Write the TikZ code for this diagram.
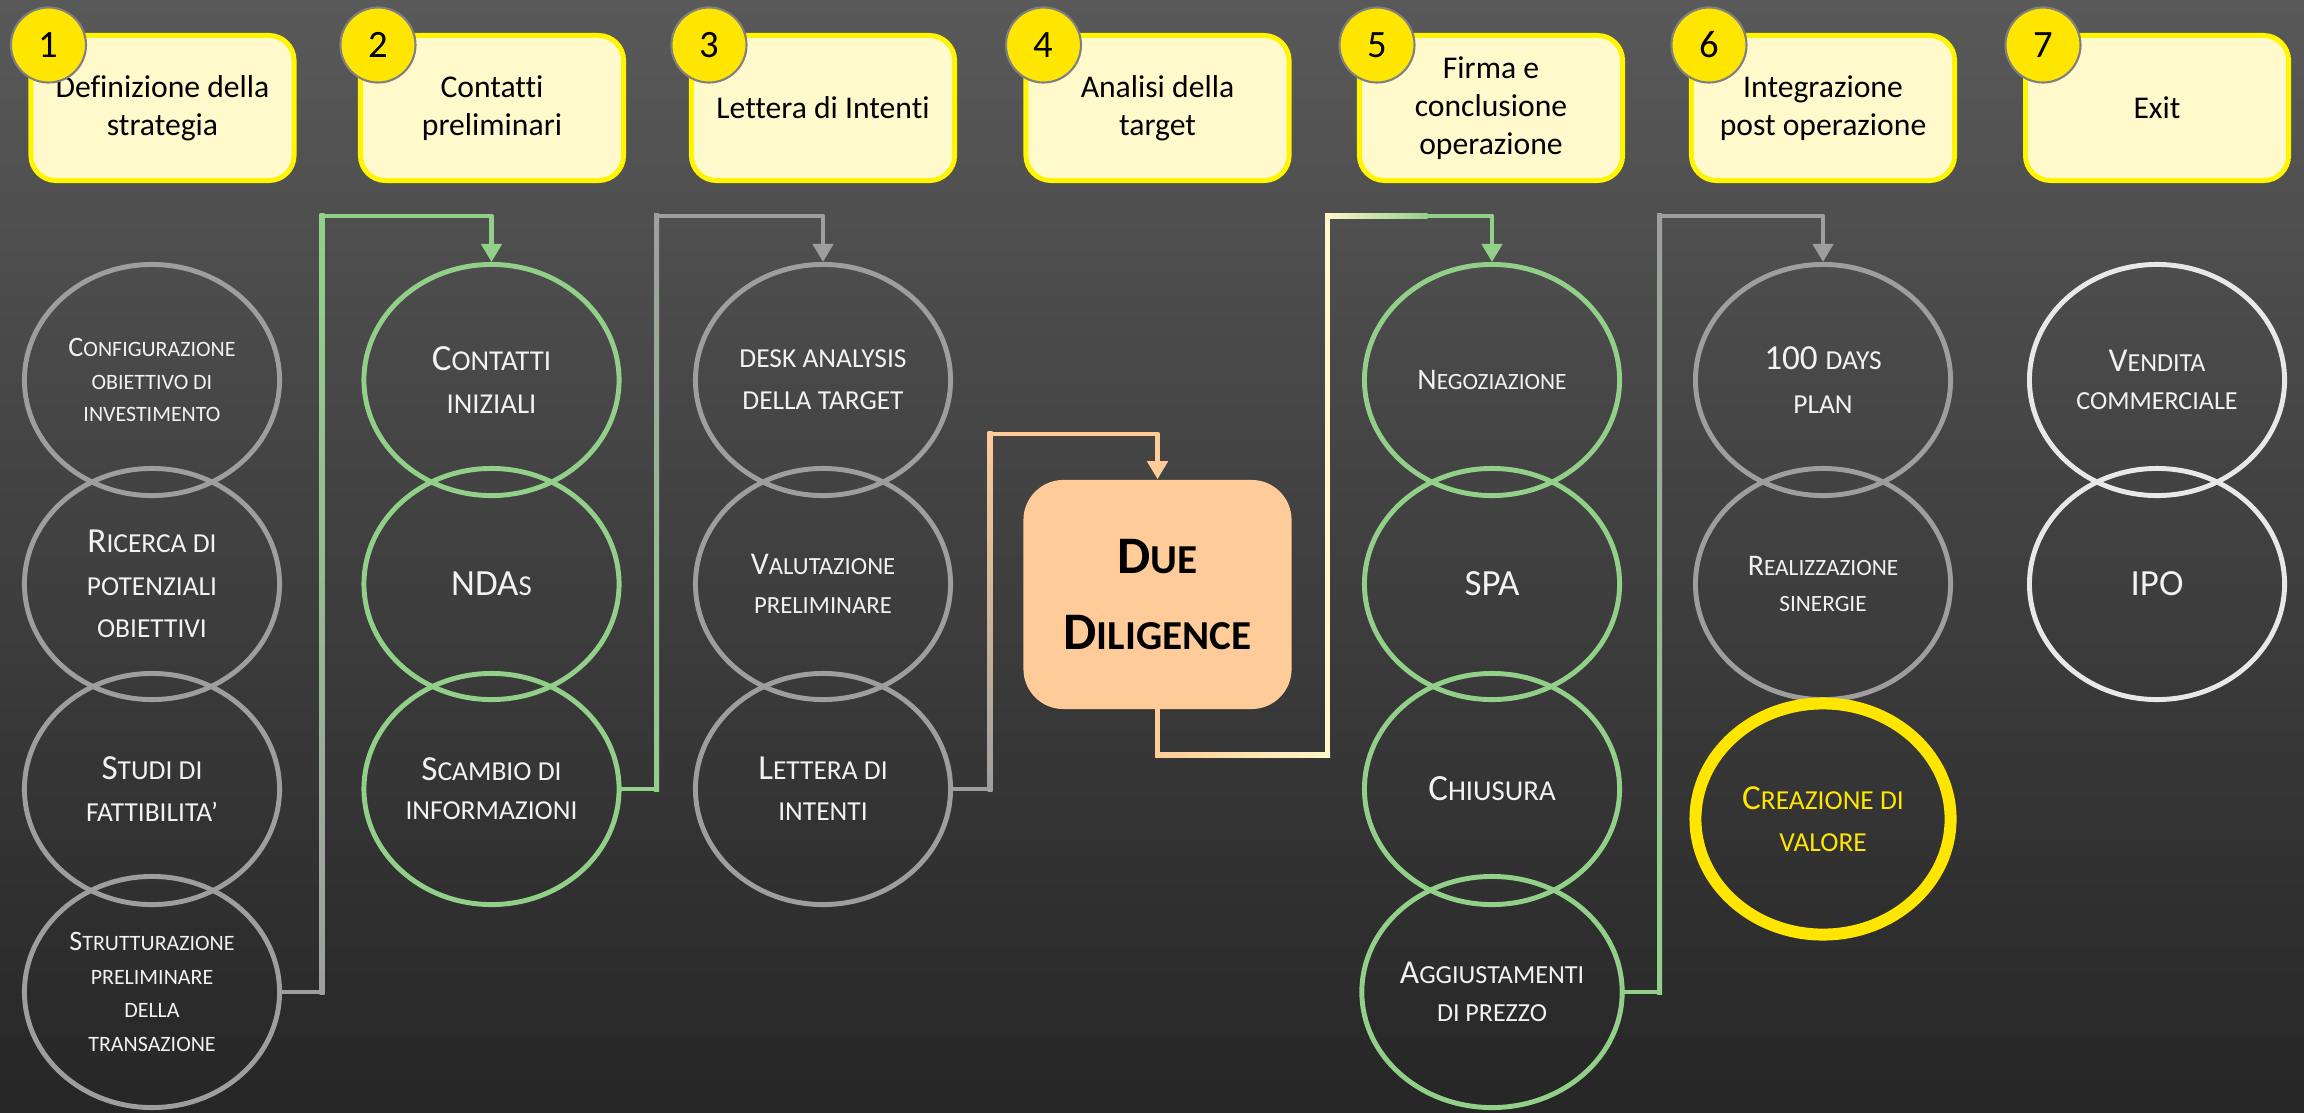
\documentclass[tikz,border=0pt]{standalone}
\usepackage{fontspec}
\setmainfont{Carlito}[Ligatures=NoCommon]
\usepackage{tikz}
\usetikzlibrary{shapes.geometric, arrows.meta, calc}
\definecolor{sfondoalto}{HTML}{595959}
\definecolor{sfondobasso}{HTML}{262626}
\definecolor{fondofase}{HTML}{FFF9CC}
\definecolor{bordofase}{HTML}{FFF500}
\definecolor{giallo}{HTML}{FFE600}
\definecolor{grigioscuro}{HTML}{808080}
\definecolor{grigio}{HTML}{9E9E9E}
\definecolor{verde}{HTML}{92D08A}
\definecolor{bianco}{HTML}{E8E8E8}
\definecolor{pesca}{HTML}{FFCC99}
\definecolor{crema}{HTML}{FFF8C8}
\definecolor{chiaro}{HTML}{DCDCDC}
\definecolor{testo}{HTML}{F2F2F2}
% finto maiuscoletto
\makeatletter
\newcommand{\sm}[1]{{\fontsize{0.78\dimexpr\f@size pt\relax}{\f@baselineskip}\selectfont #1}}
\makeatother
\newcommand{\corpo}[2]{\fontsize{#1}{#2}\selectfont}
\tikzset{
	% riquadri delle fasi
	fase/.style={draw=bordofase, line width=1.4pt, fill=fondofase, rounded corners=0.25cm,
		minimum width=2.63cm, minimum height=1.45cm, inner sep=0pt, align=center,
		text=black, font=\corpo{9}{10.8}},
	numero/.style={circle, draw=grigioscuro, line width=0.6pt, fill=giallo, minimum size=0.75cm,
		inner sep=0pt, text=black, font=\corpo{11}{12}},
	% tappe
	tappa/.style={ellipse, line width=1.4pt, minimum width=2.55cm, minimum height=2.31cm,
		inner sep=0pt, align=center, text=testo, font=\corpo{10}{12}},
	tgrigia/.style={tappa, draw=grigio},
	tverde/.style={tappa, draw=verde},
	tbianca/.style={tappa, draw=bianco},
	tvalore/.style={tappa, draw=giallo, line width=3.4pt, text=giallo},
	dd/.style={fill=pesca, rounded corners=0.4cm, minimum width=2.68cm, minimum height=2.29cm,
		inner sep=0pt, align=center, text=black, font=\bfseries\corpo{15}{21.6}},
	% collegamenti
	link/.style={line width=1.4pt, line join=round},
	punta/.style={-{Triangle[width=0.2cm,length=0.18cm]}},
	tratto/.style={line width=1.4pt, line cap=rect},
}
\begin{document}
\begin{tikzpicture}[x=0.01cm, y=-0.01cm]
	\useasboundingbox (0,0) rectangle (2304,1112);
	\shade[top color=sfondoalto, bottom color=sfondobasso] (0,0) rectangle (2304,1112);

	% fasi
	\node[fase] (b1) at (162.5,108) {Definizione della\\strategia};
	\node[fase] (b2) at (492,108) {Contatti\\preliminari};
	\node[fase] (b3) at (823,108) {Lettera di Intenti};
	\node[fase] (b4) at (1157.5,108) {Analisi della\\target};
	\node[fase] (b5) at (1491,108) {Firma e\\conclusione\\operazione};
	\node[fase] (b6) at (1823,108) {Integrazione\\post operazione};
	\node[fase] (b7) at (2157,108) {Exit};
	\node[numero] (n1) at ($(b1.north west)+(20,12)$) {1};
	\node[numero] (n2) at ($(b2.north west)+(20,12)$) {2};
	\node[numero] (n3) at ($(b3.north west)+(20,12)$) {3};
	\node[numero] (n4) at ($(b4.north west)+(20,12)$) {4};
	\node[numero] (n5) at ($(b5.north west)+(20,12)$) {5};
	\node[numero] (n6) at ($(b6.north west)+(20,12)$) {6};
	\node[numero] (n7) at ($(b7.north west)+(20,12)$) {7};

	% tappe
	\node[tgrigia, font=\corpo{8}{9.3}] (e11) at (152,380) {C\sm{ONFIGURAZIONE}\\\sm{OBIETTIVO DI}\\\sm{INVESTIMENTO}};
	\node[tgrigia] (e12) at (152,584) {R\sm{ICERCA DI}\\\sm{POTENZIALI}\\\sm{OBIETTIVI}};
	\node[tgrigia] (e13) at (152,789) {S\sm{TUDI DI}\\\sm{FATTIBILITA’}};
	\node[tgrigia, font=\corpo{8}{9.5}] (e14) at (152,992) {S\sm{TRUTTURAZIONE}\\\sm{PRELIMINARE}\\\sm{DELLA}\\\sm{TRANSAZIONE}};

	\node[tverde, font=\corpo{10.5}{12.3}] (e21) at (491.5,380) {C\sm{ONTATTI}\\\sm{INIZIALI}};
	\node[tverde, font=\corpo{10.5}{12.3}] (e22) at (491.5,584) {NDA\sm{S}};
	\node[tverde, font=\corpo{10}{11}] (e23) at (491.5,789) {S\sm{CAMBIO DI}\\\sm{INFORMAZIONI}};

	\node[tgrigia] (e31) at (823,380) {\sm{DESK ANALYSIS}\\\sm{DELLA TARGET}};
	\node[tgrigia, font=\corpo{9}{11.2}] (e32) at (823,584) {V\sm{ALUTAZIONE}\\\sm{PRELIMINARE}};
	\node[tgrigia, font=\corpo{10}{11.7}] (e33) at (823,789) {L\sm{ETTERA DI}\\\sm{INTENTI}};

	\node[dd] (dd) at (1157.5,594.5) {D\sm{UE}\\D\sm{ILIGENCE}};

	\node[tverde, font=\corpo{8.5}{10}] (e51) at (1492,380) {N\sm{EGOZIAZIONE}};
	\node[tverde, font=\corpo{10.5}{12}] (e52) at (1492,584) {SPA};
	\node[tverde, font=\corpo{10.5}{12}] (e53) at (1492,789) {C\sm{HIUSURA}};
	\node[tverde, font=\corpo{9.5}{11}] (e54) at (1492,992) {A\sm{GGIUSTAMENTI}\\\sm{DI PREZZO}};

	\node[tgrigia, font=\corpo{10}{12.3}] (e61) at (1823,380) {100 \sm{DAYS}\\\sm{PLAN}};
	\node[tgrigia, font=\corpo{8.5}{10}] (e62) at (1823,584) {R\sm{EALIZZAZIONE}\\\sm{SINERGIE}};
	\node[tvalore] (e63) at (1823,819) {C\sm{REAZIONE DI}\\\sm{VALORE}};

	\node[tbianca, font=\corpo{9.5}{11}] (e71) at (2157,380) {V\sm{ENDITA}\\\sm{COMMERCIALE}};
	\node[tbianca, font=\corpo{10.5}{12}] (e72) at (2157,584) {IPO};

	% collegamenti
	\coordinate (quota) at (0,216);
	\coordinate (quota3) at (0,434);

	% 1 -> 2
	\coordinate (k1) at ($(e14.east)+(40,0)$);
	\draw[link, punta, verde] (e14.east) -- (k1) -- (k1 |- quota) -| (e21.north);
	\draw[tratto, grigio] (e14.east) -- (k1);
	\shade[bottom color=grigio, middle color=chiaro, top color=verde] ($(k1)+(-2.5,2.5)$) rectangle ($(k1 |- quota)+(2.5,-2.5)$);

	% 2 -> 3
	\coordinate (k2) at ($(e23.east)+(35,0)$);
	\draw[link, punta, grigio] (e23.east) -- (k2) -- (k2 |- quota) -| (e31.north);
	\draw[tratto, verde] (e23.east) -- (k2);
	\shade[bottom color=verde, middle color=chiaro, top color=grigio] ($(k2)+(-2.5,2.5)$) rectangle ($(k2 |- quota)+(2.5,-2.5)$);

	% 3 -> due diligence
	\coordinate (k3) at ($(e33.east)+(37,0)$);
	\draw[link, punta, pesca] (e33.east) -- (k3) -- (k3 |- quota3) -| (dd.north);
	\draw[tratto, grigio] (e33.east) -- (k3);
	\shade[bottom color=grigio, middle color=crema!70!chiaro, top color=pesca] ($(k3)+(-2.5,2.5)$) rectangle ($(k3 |- quota3)+(2.5,-2.5)$);

	% due diligence -> 5
	\coordinate (k4a) at ($(dd.south)+(0,45)$);
	\coordinate (k4b) at ($(k4a)+(170,0)$);
	\draw[link, punta, verde] (dd.south) -- (k4a) -- (k4b) -- (k4b |- quota) -| (e51.north);
	\draw[tratto, pesca] (dd.south) -- (k4a);
	\shade[left color=pesca, right color=crema] ($(k4a)+(-2.5,2.5)$) rectangle ($(k4b)+(2.5,-2.5)$);
	\draw[tratto, crema] (k4b) -- (k4b |- quota);
	\shade[left color=crema, right color=verde] ($(k4b |- quota)+(-2.5,2.5)$) rectangle ($(k4b |- quota)+(100,-2.5)$);

	% 5 -> 6
	\coordinate (k5) at ($(e54.east)+(35,0)$);
	\draw[link, punta, grigio] (e54.east) -- (k5) -- (k5 |- quota) -| (e61.north);
	\draw[tratto, verde] (e54.east) -- (k5);
	\shade[bottom color=verde, middle color=chiaro, top color=grigio] ($(k5)+(-2.5,2.5)$) rectangle ($(k5 |- quota)+(2.5,-2.5)$);
\end{tikzpicture}
\end{document}
